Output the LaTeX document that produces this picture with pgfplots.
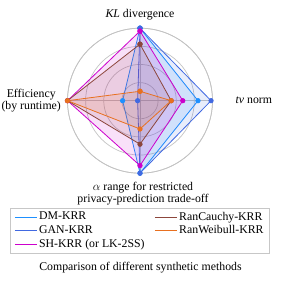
\documentclass[border=0pt]{standalone}
\usepackage{fontspec}
\setmainfont{Liberation Serif}
\usepackage{pgfplots}
\pgfplotsset{compat=1.18}
\usepgfplotslibrary{polar}
\definecolor{dmc}{RGB}{30,144,255}
\definecolor{ganc}{RGB}{65,105,225}
\definecolor{shc}{RGB}{204,0,204}
\definecolor{cauc}{RGB}{140,70,60}
\definecolor{weic}{RGB}{232,112,32}
\definecolor{gridc}{RGB}{195,195,195}
\begin{document}
\fontsize{11.8}{11.8}\selectfont
\begin{tikzpicture}
\useasboundingbox (0,0) rectangle (281pt,283pt);
\begin{polaraxis}[
  at={(140pt,182.3pt)}, anchor=origin,
  width=145pt, height=145pt, scale only axis,
  xmin=0, xmax=360, ymin=0, ymax=1,
  xtick={0,90,180,270}, ytick={0.25,0.5,0.75,1},
  xticklabels={}, yticklabels={},
  xmajorgrids, ymajorgrids,
  major grid style={gridc, line width=0.7pt},
  axis line style={gridc, line width=0.7pt},
  tick style={draw=none},
  every axis plot/.append style={line width=0.8pt, mark=*, mark size=2.2pt},
  legend style={at={(axis description cs:0.5,-0.24)}, anchor=north,
    draw=black!22, line width=0.7pt, inner xsep=4pt, inner ysep=1.5pt,
    font=\fontsize{11.8}{12.5}\selectfont, row sep=0pt,
    /tikz/every even column/.append style={column sep=8pt}},
  legend cell align=left,
  legend columns=2,
  legend image code/.code={\draw[#1, line width=0.6pt] (0pt,0pt) -- (22pt,0pt);},
]
\addplot[dmc, fill=dmc, fill opacity=0.12, mark options={fill=dmc, fill opacity=1}, forget plot]
  coordinates {(90,1.0) (0,0.80) (270,1.0) (180,0.24) (90,1.0)};
\addplot[ganc, fill=ganc, fill opacity=0.12, mark options={fill=ganc, fill opacity=1}, forget plot]
  coordinates {(90,1.0) (0,0.98) (270,1.0) (180,0.033) (90,1.0)};
\addplot[shc, fill=shc, fill opacity=0.12, mark options={fill=shc, fill opacity=1}, forget plot]
  coordinates {(90,0.96) (0,0.59) (270,0.895) (180,1.0) (90,0.96)};
\addplot[cauc, fill=cauc, fill opacity=0.12, mark options={fill=cauc, fill opacity=1}, forget plot]
  coordinates {(90,0.78) (0,0.43) (270,0.60) (180,1.0) (90,0.78)};
\addplot[weic, fill=weic, fill opacity=0.12, mark options={fill=weic, fill opacity=1}, forget plot]
  coordinates {(90,0.13) (0,0.43) (270,0.39) (180,1.0) (90,0.13)};
\addlegendimage{dmc}\addlegendentry{DM-KRR}
\addlegendimage{cauc}\addlegendentry{RanCauchy-KRR}
\addlegendimage{ganc}\addlegendentry{GAN-KRR}
\addlegendimage{weic}\addlegendentry{RanWeibull-KRR}
\addlegendimage{shc}\addlegendentry{SH-KRR (or LK-2SS)}
\end{polaraxis}
\node at (140pt,268.5pt) {\textit{KL} divergence};
\node[anchor=west] at (231.5pt,182.3pt) {\textit{tv} norm};
\node[anchor=east, align=center] at (65pt,182.3pt) {Efficiency\\(by runtime)};
\node[align=center] at (143pt,89pt) {$\alpha$ range for restricted\\privacy-prediction trade-off};
\node at (140.5pt,15pt) {Comparison of different synthetic methods};
\end{tikzpicture}
\end{document}
